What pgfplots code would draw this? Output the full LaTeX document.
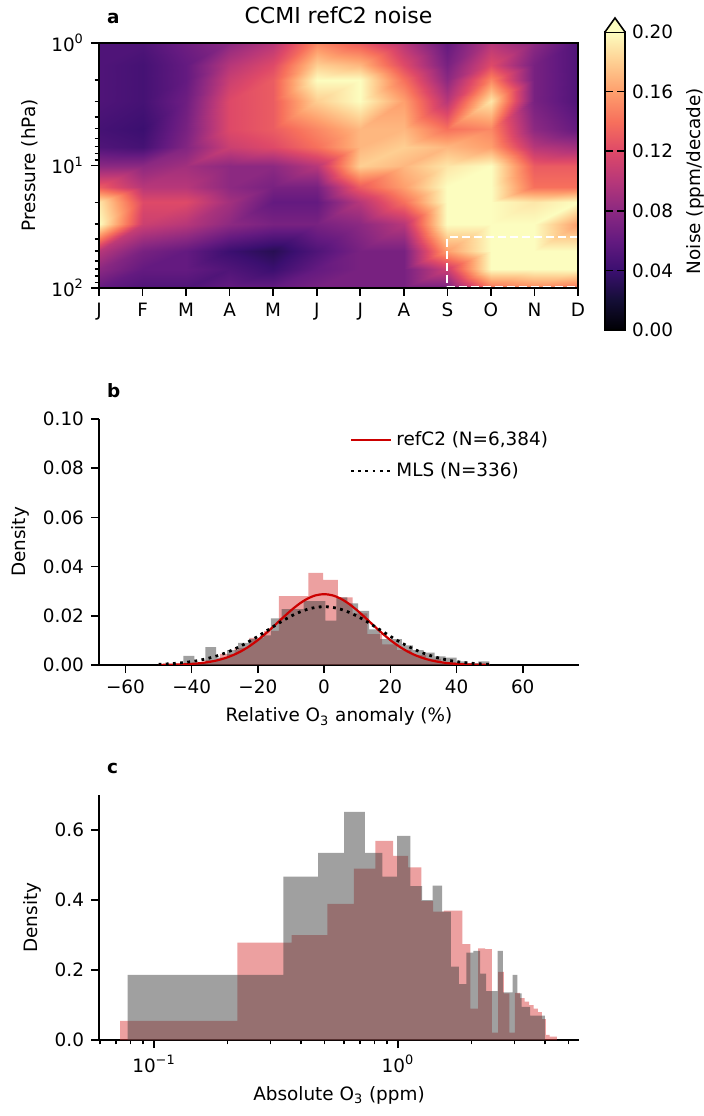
\documentclass[border=0pt]{standalone}
\usepackage{fontspec}
\setmainfont{DejaVu Sans}
\usepackage{pgfplots}
\pgfplotsset{compat=1.18}
\definecolor{histred}{RGB}{217,65,65}
\definecolor{histgray}{RGB}{65,65,65}
\definecolor{curvered}{RGB}{204,0,0}
\definecolor{cbtop}{RGB}{252,253,191}
\pgfplotsset{
  colormap={magma}{rgb255(0cm)=(0,0,4) rgb255(1cm)=(20,14,54) rgb255(2cm)=(59,15,112) rgb255(3cm)=(100,26,128) rgb255(4cm)=(140,41,129) rgb255(5cm)=(183,55,121) rgb255(6cm)=(222,73,104) rgb255(7cm)=(247,112,92) rgb255(8cm)=(254,159,109) rgb255(9cm)=(254,207,146) rgb255(10cm)=(252,253,191)},
  myaxis/.style={scale only axis, anchor=south west,
    font=\fontsize{9.2}{11}\selectfont,
    tick label style={font=\fontsize{9.2}{11}\selectfont},
    label style={font=\fontsize{9.2}{11}\selectfont},
    axis line style={line width=0.8pt},
    every tick/.style={black, line width=0.8pt},
    major tick length=4pt, minor tick length=2.2pt,
    tick align=outside, tick pos=left},
}
\begin{document}
\begin{tikzpicture}
\useasboundingbox (0,0) rectangle (352pt,558pt);
% ---------------- panel a
\begin{axis}[myaxis, at={(49.5pt,414pt)}, width=239.5pt, height=122.5pt,
  xmin=0, xmax=11, ymin=1, ymax=100, ymode=log, y dir=reverse,
  xtick={0,...,11}, xticklabels={J,F,M,A,M,J,J,A,S,O,N,D},
  ytick={1,10,100}, yticklabels={10\textsuperscript{0},10\textsuperscript{1},10\textsuperscript{2}},
  minor ytick={2,3,4,5,6,7,8,9,20,30,40,50,60,70,80,90},
  ylabel={Pressure (hPa)},
  title={CCMI refC2 noise}, title style={font=\fontsize{11}{13}\selectfont},
  colormap name=magma, point meta min=0, point meta max=0.2,
  axis on top,
  colorbar,
  colorbar style={at={(1.0564,1.045)}, anchor=north west, scale only axis,
    width=10pt, height=149pt,
    ytick={0,0.04,0.08,0.12,0.16,0.2},
    yticklabels={0.00,0.04,0.08,0.12,0.16,0.20},
    ylabel={Noise (ppm/decade)},
    tick label style={font=\fontsize{9.2}{11}\selectfont},
    label style={font=\fontsize{9.2}{11}\selectfont},
    axis line style={line width=0.8pt},
    every tick/.style={black, line width=0.8pt}, major tick length=4pt,
    extra description/.code={\draw[fill=cbtop, line width=0.8pt] (0,1) -- (0.5,1.047) -- (1,1);}},
]
\addplot[surf, shader=interp, mesh/rows=13, mesh/cols=12, point meta=explicit]
table[x=x, y=y, meta=z] {
x y z
0 1 0.05
1 1 0.05
2 1 0.065
3 1 0.08
4 1 0.10
5 1 0.15
6 1 0.13
7 1 0.10
8 1 0.06
9 1 0.10
10 1 0.08
11 1 0.05
0 1.5 0.05
1 1.5 0.045
2 1.5 0.06
3 1.5 0.10
4 1.5 0.12
5 1.5 0.18
6 1.5 0.17
7 1.5 0.12
8 1.5 0.07
9 1.5 0.12
10 1.5 0.07
11 1.5 0.05
0 2 0.05
1 2 0.045
2 2 0.06
3 2 0.11
4 2 0.13
5 2 0.20
6 2 0.20
7 2 0.14
8 2 0.08
9 2 0.15
10 2 0.07
11 2 0.05
0 3 0.05
1 3 0.045
2 3 0.065
3 3 0.12
4 3 0.13
5 3 0.18
6 3 0.20
7 3 0.16
8 3 0.10
9 3 0.19
10 3 0.07
11 3 0.05
0 5 0.045
1 5 0.04
2 5 0.07
3 5 0.12
4 5 0.13
5 5 0.15
6 5 0.17
7 5 0.17
8 5 0.14
9 5 0.15
10 5 0.08
11 5 0.06
0 7 0.05
1 7 0.045
2 7 0.075
3 7 0.11
4 7 0.12
5 7 0.14
6 7 0.17
7 7 0.18
8 7 0.17
9 7 0.16
10 7 0.10
11 7 0.09
0 10 0.08
1 10 0.08
2 10 0.09
3 10 0.08
4 10 0.08
5 10 0.10
6 10 0.18
7 10 0.17
8 10 0.19
9 10 0.20
10 10 0.13
11 10 0.13
0 15 0.13
1 15 0.10
2 15 0.10
3 15 0.08
4 15 0.07
5 15 0.07
6 15 0.13
7 15 0.16
8 15 0.20
9 15 0.20
10 15 0.14
11 15 0.14
0 20 0.19
1 20 0.12
2 20 0.12
3 20 0.09
4 20 0.06
5 20 0.06
6 20 0.10
7 20 0.14
8 20 0.20
9 20 0.20
10 20 0.19
11 20 0.20
0 30 0.20
1 30 0.11
2 30 0.10
3 30 0.08
4 30 0.07
5 30 0.07
6 30 0.08
7 30 0.10
8 30 0.20
9 30 0.20
10 30 0.20
11 30 0.16
0 50 0.10
1 50 0.07
2 50 0.06
3 50 0.04
4 50 0.03
5 50 0.05
6 50 0.07
7 50 0.07
8 50 0.16
9 50 0.20
10 50 0.20
11 50 0.20
0 70 0.08
1 70 0.06
2 70 0.06
3 70 0.05
4 70 0.04
5 70 0.06
6 70 0.07
7 70 0.07
8 70 0.11
9 70 0.20
10 70 0.20
11 70 0.20
0 100 0.06
1 100 0.05
2 100 0.05
3 100 0.06
4 100 0.06
5 100 0.07
6 100 0.07
7 100 0.07
8 100 0.07
9 100 0.14
10 100 0.15
11 100 0.14
};
\addplot[white, line width=1pt, dash pattern=on 4pt off 2pt] coordinates {(11,38.5) (8,38.5) (8,98.5) (11,98.5)};
\end{axis}
\node[anchor=base west, font=\bfseries\fontsize{9.2}{11}\selectfont] at (50pt,546pt) {a};
% ---------------- panel b
\begin{axis}[myaxis, at={(49.5pt,225.5pt)}, width=240pt, height=123pt,
  axis x line*=bottom, axis y line*=left, axis line style={-, line width=0.8pt},
  xmin=-68, xmax=77, ymin=0, ymax=0.1,
  xtick={-60,-40,-20,0,20,40,60}, xticklabels={−60,−40,−20,0,20,40,60},
  ytick={0,0.02,0.04,0.06,0.08,0.1}, yticklabels={0.00,0.02,0.04,0.06,0.08,0.10},
  xlabel={Relative O\textsubscript{3} anomaly (\%)}, ylabel={Density},
  legend style={at={(axis cs:7,0.0975)}, anchor=north west, draw=none, fill=none,
    font=\fontsize{9.2}{11}\selectfont, row sep=3pt, inner sep=1pt},
  legend cell align=left,
  legend image code/.code={\draw[#1] (0pt,0pt) -- (20pt,0pt);},
]
\addplot[const plot, fill=histred, fill opacity=0.5, draw=none, forget plot] coordinates {
(-49.25,0.0003) (-44.8,0.0005) (-40.35,0.001) (-35.9,0.002) (-31.45,0.0045) (-27.0,0.007)
(-22.55,0.011) (-18.1,0.0139) (-13.65,0.028) (-9.2,0.028) (-4.75,0.0374) (-0.3,0.0346)
(4.15,0.0275) (8.6,0.021) (13.05,0.0125) (17.5,0.0084) (21.95,0.006) (26.4,0.004)
(30.85,0.0025) (35.3,0.0012) (39.75,0.0006) (44.2,0.0003) (48.65,0.0003)} \closedcycle;
\addplot[const plot, fill=histgray, fill opacity=0.5, draw=none, forget plot] coordinates {
(-42.5,0.0037) (-39.2,0.0009) (-35.9,0.0073) (-32.6,0.003) (-29.3,0.006) (-26,0.009)
(-22.7,0.0105) (-19.4,0.012) (-16.1,0.019) (-12.8,0.0227) (-9.5,0.0227) (-6.2,0.026)
(-2.9,0.026) (0.4,0.018) (3.7,0.0275) (7,0.025) (10.3,0.022) (13.6,0.0145)
(16.9,0.0105) (20.2,0.0105) (23.5,0.008) (26.8,0.006) (30.1,0.005) (33.4,0.0035)
(36.7,0.003) (40,0.0015) (43.3,0.0008) (46.6,0.0015) (49.9,0.0015)} \closedcycle;
\addplot[curvered, line width=1.1pt, smooth] coordinates {
(-50,0.00004) (-47.5,0.00008) (-45,0.00015) (-42.5,0.00026) (-40,0.00044) (-37.5,0.00074)
(-35,0.00118) (-32.5,0.00183) (-30,0.00276) (-27.5,0.00401) (-25,0.00565) (-22.5,0.00770)
(-20,0.01015) (-17.5,0.01296) (-15,0.01602) (-12.5,0.01916) (-10,0.02219) (-7.5,0.02487)
(-5,0.02698) (-2.5,0.02833) (0,0.02880) (2.5,0.02833) (5,0.02698) (7.5,0.02487)
(10,0.02219) (12.5,0.01916) (15,0.01602) (17.5,0.01296) (20,0.01015) (22.5,0.00770)
(25,0.00565) (27.5,0.00401) (30,0.00276) (32.5,0.00183) (35,0.00118) (37.5,0.00074)
(40,0.00044) (42.5,0.00026) (45,0.00015) (47.5,0.00008) (50,0.00004)};
\addlegendentry{refC2 (N=6,384)}
\addplot[black, line width=1.4pt, dash pattern=on 1.4pt off 2.2pt, smooth] coordinates {
(-50,0.00028) (-47.5,0.00044) (-45,0.00066) (-42.5,0.00097) (-40,0.00139) (-37.5,0.00196)
(-35,0.00271) (-32.5,0.00365) (-30,0.00481) (-27.5,0.00621) (-25,0.00783) (-22.5,0.00967)
(-20,0.01167) (-17.5,0.01378) (-15,0.01591) (-12.5,0.01797) (-10,0.01985) (-7.5,0.02145)
(-5,0.02267) (-2.5,0.02344) (0,0.02370) (2.5,0.02344) (5,0.02267) (7.5,0.02145)
(10,0.01985) (12.5,0.01797) (15,0.01591) (17.5,0.01378) (20,0.01167) (22.5,0.00967)
(25,0.00783) (27.5,0.00621) (30,0.00481) (32.5,0.00365) (35,0.00271) (37.5,0.00196)
(40,0.00139) (42.5,0.00097) (45,0.00066) (47.5,0.00044) (50,0.00028)};
\addlegendentry{MLS (N=336)}
\end{axis}
\node[anchor=base west, font=\bfseries\fontsize{9.2}{11}\selectfont] at (50pt,359pt) {b};
% ---------------- panel c
\begin{axis}[myaxis, at={(49.5pt,38pt)}, width=240pt, height=122.5pt,
  axis x line*=bottom, axis y line*=left, axis line style={-, line width=0.8pt},
  xmode=log, xmin=0.0595, xmax=5.52, ymin=0, ymax=0.7,
  xtick={0.1,1}, xticklabels={10\textsuperscript{−1},10\textsuperscript{0}},
  minor xtick={0.06,0.07,0.08,0.09,0.2,0.3,0.4,0.5,0.6,0.7,0.8,0.9,2,3,4,5},
  ytick={0,0.2,0.4,0.6}, yticklabels={0.0,0.2,0.4,0.6},
  xlabel={Absolute O\textsubscript{3} (ppm)}, ylabel={Density},
]
\addplot[const plot, fill=histred, fill opacity=0.5, draw=none] coordinates {
(0.0726,0.055) (0.2195,0.278) (0.3664,0.30) (0.5133,0.389) (0.6602,0.49) (0.8071,0.569)
(0.9540,0.526) (1.1009,0.493) (1.2478,0.397) (1.3947,0.367) (1.5416,0.37) (1.6885,0.37)
(1.8354,0.274) (1.9823,0.09) (2.1292,0.262) (2.2761,0.26) (2.4230,0.021) (2.5699,0.195)
(2.7168,0.133) (2.8637,0.021) (3.0106,0.135) (3.1575,0.12) (3.3044,0.11) (3.4513,0.10)
(3.5982,0.09) (3.7451,0.08) (3.8920,0.06) (4.0389,0.015) (4.1858,0.01) (4.3327,0.01)
(4.4796,0.01)} \closedcycle;
\addplot[const plot, fill=histgray, fill opacity=0.5, draw=none] coordinates {
(0.0780,0.186) (0.2087,0.186) (0.3394,0.467) (0.4701,0.535) (0.6008,0.652) (0.7315,0.535)
(0.8622,0.467) (0.9929,0.583) (1.1236,0.44) (1.2543,0.40) (1.3850,0.441) (1.5157,0.367)
(1.6464,0.21) (1.7771,0.16) (1.9078,0.25) (2.0385,0.255) (2.1692,0.19) (2.2999,0.14)
(2.4306,0.14) (2.5613,0.255) (2.6920,0.136) (2.8227,0.136) (2.9534,0.186) (3.0841,0.133)
(3.2148,0.095) (3.3455,0.095) (3.4762,0.07) (3.6069,0.07) (3.7376,0.07) (3.8683,0.07)
(3.9990,0.07)} \closedcycle;
\end{axis}
\node[anchor=base west, font=\bfseries\fontsize{9.2}{11}\selectfont] at (50pt,171pt) {c};
\end{tikzpicture}
\end{document}
